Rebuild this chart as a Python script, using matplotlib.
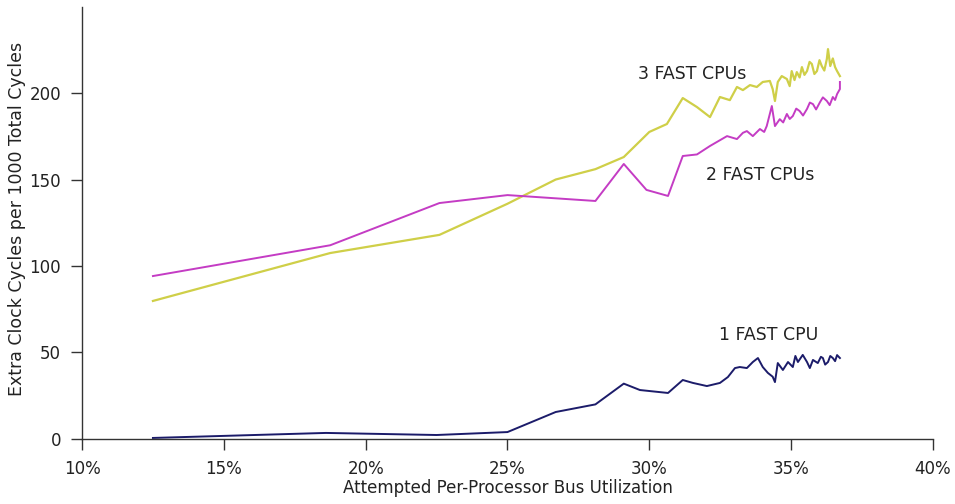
import matplotlib
matplotlib.use("Agg")
import matplotlib.pyplot as plt
from matplotlib.ticker import FuncFormatter

plt.rcParams['font.family'] = ['DejaVu Sans']

# Bus utilization (%) and extra clock cycles per 1000 cycles
util_1 = [12.5, 18.6, 22.5, 25.0, 26.7, 28.1, 29.1, 29.67, 30.66, 31.18, 31.54, 32.03,
          32.49, 32.77, 33.02, 33.19, 33.44, 33.65, 33.83, 34.00, 34.18, 34.35, 34.43,
          34.53, 34.71, 34.89, 35.06, 35.15, 35.24, 35.41, 35.56, 35.66, 35.77, 35.94,
          36.05, 36.12, 36.20, 36.30, 36.38, 36.47, 36.55, 36.62, 36.72]
cyc_1 = [0.6, 3.5, 2.3, 4.0, 15.6, 20.0, 32.0, 28.3, 26.6, 34.1, 32.4, 30.6,
         32.4, 35.8, 41.0, 41.6, 41.0, 44.5, 46.8, 41.6, 38.2, 36.0, 32.9,
         43.9, 39.9, 44.5, 41.6, 48.0, 44.5, 48.6, 44.5, 41.0, 45.7, 43.9,
         47.5, 46.8, 43.0, 44.5, 48.0, 46.8, 45.0, 48.5, 46.8]

util_2 = [12.5, 18.75, 22.6, 25.0, 28.1, 29.1, 29.9, 30.66, 31.18, 31.68, 32.14,
          32.74, 33.09, 33.30, 33.44, 33.65, 33.90, 34.05, 34.14, 34.32, 34.43, 34.60,
          34.72, 34.85, 34.95, 35.06, 35.18, 35.30, 35.42, 35.56, 35.66, 35.77, 35.88,
          36.02, 36.12, 36.26, 36.36, 36.47, 36.55, 36.62, 36.72, 36.72]
cyc_2 = [94.2, 112.0, 136.4, 141.0, 137.6, 159.0, 144.0, 140.5, 163.6, 164.5, 169.4,
         175.1, 173.4, 177.0, 178.0, 175.1, 179.2, 177.5, 180.9, 192.5, 180.9, 184.9,
         183.0, 187.9, 185.0, 186.7, 191.0, 189.6, 187.0, 190.8, 194.5, 193.6, 190.5,
         194.8, 197.5, 195.4, 193.0, 197.7, 196.0, 199.4, 202.3, 206.4]

util_3 = [12.5, 18.75, 22.6, 25.0, 26.7, 28.1, 29.1, 30.0, 30.62, 31.18, 31.68,
          32.14, 32.49, 32.84, 33.09, 33.30, 33.55, 33.79, 34.00, 34.25, 34.35,
          34.43, 34.53, 34.67, 34.85, 34.95, 35.02, 35.12, 35.20, 35.30, 35.38,
          35.47, 35.56, 35.65, 35.73, 35.82, 35.91, 36.00, 36.08, 36.17, 36.26,
          36.30, 36.38, 36.47, 36.55, 36.62, 36.72]
cyc_3 = [79.8, 107.5, 118.0, 136.0, 150.0, 156.0, 163.0, 177.5, 182.1, 197.1, 191.9,
         186.1, 197.7, 195.9, 203.5, 201.7, 204.6, 203.5, 206.4, 207.0, 202.3,
         195.4, 206.4, 209.8, 208.1, 204.0, 212.7, 207.5, 212.1, 209.0, 215.0,
         210.5, 212.7, 218.0, 216.8, 211.0, 212.7, 219.0, 215.6, 213.0, 219.7,
         225.4, 215.6, 220.0, 215.0, 212.7, 209.8]

series_labels = ["1 FAST CPU", "2 FAST CPUs", "3 FAST CPUs"]
label_pos = [(34.2, 60), (33.9, 152.5), (31.5, 211)]

x_ticks = [10, 15, 20, 25, 30, 35, 40]
y_ticks = [0, 50, 100, 150, 200]

fig = plt.figure(figsize=(9.55, 5.04), dpi=100)
ax = fig.add_axes([0.0859, 0.129, 0.891, 0.858])

ax.plot(util_3, cyc_3, color="#cfcf48", lw=1.6)
ax.plot(util_2, cyc_2, color="#c43cc4", lw=1.4)
ax.plot(util_1, cyc_1, color="#1c1c6a", lw=1.4)

for text, (x, y) in zip(series_labels, label_pos):
    ax.text(x, y, text, ha="center", va="center", fontsize=12.5, color="#222222")

ax.set_xlim(10, 40)
ax.set_ylim(0, 250)
ax.set_xticks(x_ticks)
ax.set_yticks(y_ticks)
ax.xaxis.set_major_formatter(FuncFormatter(lambda v, p: f"{v:.0f}%"))

for side in ("top", "right"):
    ax.spines[side].set_visible(False)
for side in ("left", "bottom"):
    ax.spines[side].set_color("#333333")
    ax.spines[side].set_linewidth(1.0)

ax.tick_params(axis="both", direction="out", length=8, width=1.0, color="#333333",
               labelsize=12, labelcolor="#222222")
ax.tick_params(axis="x", pad=7)
ax.tick_params(axis="y", pad=7)

ax.set_xlabel("Attempted Per-Processor Bus Utilization", fontsize=12, color="#222222", labelpad=1)
ax.set_ylabel("Extra Clock Cycles per 1000 Total Cycles", fontsize=12.5, color="#222222")
ax.yaxis.set_label_coords(-0.066, 0.51)

fig.savefig("out.png", dpi=100)
